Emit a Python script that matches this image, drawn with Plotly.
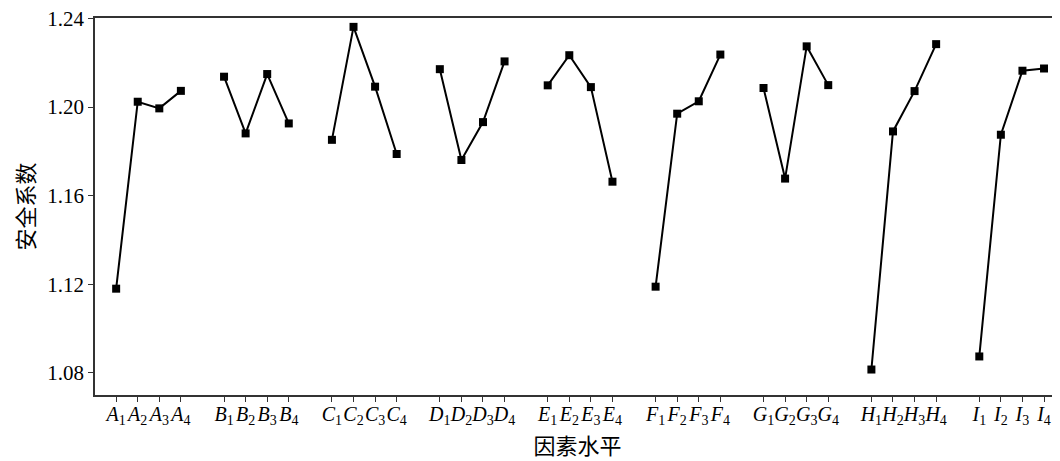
import plotly.graph_objects as go

factors = ["A", "B", "C", "D", "E", "F", "G", "H", "I"]
levels = [1, 2, 3, 4]
values = {
    "A": [1.1180, 1.2024, 1.1994, 1.2073],
    "B": [1.2137, 1.1881, 1.2149, 1.1926],
    "C": [1.1852, 1.2362, 1.2092, 1.1788],
    "D": [1.2171, 1.1761, 1.1932, 1.2206],
    "E": [1.2098, 1.2234, 1.2090, 1.1663],
    "F": [1.1189, 1.1970, 1.2026, 1.2237],
    "G": [1.2086, 1.1677, 1.2274, 1.2099],
    "H": [1.0815, 1.1890, 1.2072, 1.2284],
    "I": [1.0874, 1.1875, 1.2164, 1.2174],
}
y_ticks = [1.08, 1.12, 1.16, 1.20, 1.24]

fig = go.Figure()
tickvals, ticktext = [], []
for g, f in enumerate(factors):
    xs = [g * 5 + (lv - 1) for lv in levels]
    tickvals += xs
    ticktext += [f"<i>{f}</i><sub>{lv}</sub>" for lv in levels]
    fig.add_trace(go.Scatter(
        x=xs, y=values[f], mode="lines+markers",
        line=dict(color="black", width=2),
        marker=dict(symbol="square", size=8, color="black"),
        showlegend=False,
    ))

font_serif = "Liberation Serif"
# page body has an 8px default margin, so the figure is sized/offset accordingly
fig.update_layout(
    width=1052, height=453,
    margin=dict(l=87, r=0, t=10, b=66, autoexpand=False),
    plot_bgcolor="white", paper_bgcolor="white",
    font=dict(family=font_serif, size=22, color="black"),
)
fig.update_xaxes(
    range=[-0.98, 43.74], automargin=False, tickangle=0,
    tickmode="array", tickvals=tickvals, ticktext=ticktext,
    ticks="outside", ticklen=5, tickwidth=1.2, tickcolor="#333",
    ticklabelstandoff=-5, ticklabeloverflow="allow",
    showline=True, linecolor="#333", linewidth=1.5, mirror=True,
    showgrid=False, zeroline=False,
    tickfont=dict(family=font_serif, size=20),
    title=dict(text="因素水平", font=dict(family="Noto Sans CJK SC", size=22), standoff=0),
)
fig.update_yaxes(
    range=[1.07, 1.2402], automargin=False,
    tickmode="array", tickvals=y_ticks, ticktext=[f"{v:.2f}" for v in y_ticks],
    ticks="outside", ticklen=5, tickwidth=1.2, tickcolor="#333",
    ticklabeloverflow="allow",
    showline=True, linecolor="#333", linewidth=1.5,
    showgrid=False, zeroline=False,
    tickfont=dict(family=font_serif, size=21),
    title=dict(text="安全系数", font=dict(family="Noto Sans CJK SC", size=22), standoff=18),
)

fig.write_html("out.html")
